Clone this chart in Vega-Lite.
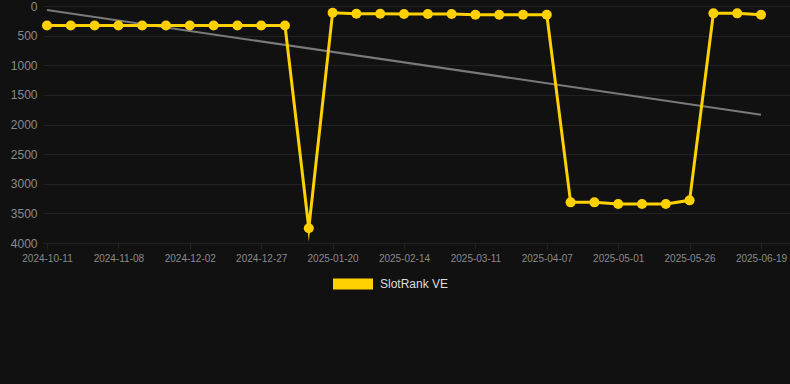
{
  "$schema": "https://vega.github.io/schema/vega-lite/v6.json",
  "autosize": {"type": "none"},
  "width": 747,
  "height": 237,
  "padding": {"left": 43, "top": 6, "right": 0, "bottom": 141},
  "background": "#111111",
  "config": {
    "view": {"stroke": null},
    "font": "Liberation Sans",
    "axis": {"gridColor": "#222222", "gridWidth": 1, "domain": false, "labelColor": "#8a8a8a", "labelFont": "Liberation Sans"}
  },
  "datasets": {
    "rank": [
      {"date": "2024-10-11", "rank": 330},
      {"date": "2024-10-20", "rank": 330},
      {"date": "2024-10-29", "rank": 330},
      {"date": "2024-11-08", "rank": 330},
      {"date": "2024-11-16", "rank": 330},
      {"date": "2024-11-24", "rank": 330},
      {"date": "2024-12-02", "rank": 330},
      {"date": "2024-12-10", "rank": 330},
      {"date": "2024-12-19", "rank": 330},
      {"date": "2024-12-27", "rank": 330},
      {"date": "2025-01-04", "rank": 330},
      {"date": "2025-01-12", "rank": 3750},
      {"date": "2025-01-20", "rank": 113},
      {"date": "2025-01-28", "rank": 130},
      {"date": "2025-02-06", "rank": 130},
      {"date": "2025-02-14", "rank": 135},
      {"date": "2025-02-22", "rank": 135},
      {"date": "2025-03-03", "rank": 135},
      {"date": "2025-03-11", "rank": 147},
      {"date": "2025-03-20", "rank": 147},
      {"date": "2025-03-29", "rank": 147},
      {"date": "2025-04-07", "rank": 147},
      {"date": "2025-04-15", "rank": 3314},
      {"date": "2025-04-23", "rank": 3314},
      {"date": "2025-05-01", "rank": 3342},
      {"date": "2025-05-09", "rank": 3342},
      {"date": "2025-05-17", "rank": 3342},
      {"date": "2025-05-26", "rank": 3280},
      {"date": "2025-06-03", "rank": 124},
      {"date": "2025-06-11", "rank": 124},
      {"date": "2025-06-19", "rank": 147}
    ],
    "trend": [
      {"date": "2024-10-11", "rank": 68},
      {"date": "2025-06-19", "rank": 1834}
    ]
  },
  "encoding": {
    "x": {
      "field": "date",
      "type": "ordinal",
      "title": null,
      "scale": {"type": "point", "padding": 0.693, "align": 0.121},
      "axis": {
        "values": ["2024-10-11", "2024-11-08", "2024-12-02", "2024-12-27", "2025-01-20", "2025-02-14", "2025-03-11", "2025-04-07", "2025-05-01", "2025-05-26", "2025-06-19"],
        "labelAngle": 0,
        "labelFontSize": 10,
        "tickColor": "#222222",
        "tickSize": 6,
        "labelPadding": 4
      }
    },
    "y": {
      "field": "rank",
      "type": "quantitative",
      "title": null,
      "scale": {"domain": [0, 4000], "reverse": true, "nice": false},
      "axis": {"values": [0, 500, 1000, 1500, 2000, 2500, 3000, 3500, 4000], "format": "d", "ticks": false, "labelFontSize": 12, "labelPadding": 6}
    }
  },
  "layer": [
    {
      "data": {"name": "trend"},
      "mark": {"type": "line", "color": "#7a7a7a", "strokeWidth": 2}
    },
    {
      "data": {"name": "rank"},
      "mark": {"type": "line", "strokeWidth": 3, "strokeJoin": "miter", "strokeMiterLimit": 10, "point": {"filled": true, "size": 100, "opacity": 1}},
      "encoding": {
        "color": {
          "datum": "SlotRank VE",
          "type": "nominal",
          "scale": {"range": ["#FFD100"]},
          "legend": {
            "title": null,
            "orient": "none",
            "legendX": 290,
            "legendY": 258,
            "symbolType": "M-1,-0.275L1,-0.275L1,0.275L-1,0.275Z",
            "symbolSize": 1600,
            "symbolFillColor": "#FFD100",
            "symbolStrokeColor": "#FFD100",
            "symbolStrokeWidth": 0,
            "labelColor": "#dddddd",
            "labelFontSize": 12,
            "labelOffset": 7,
            "labelFont": "Liberation Sans",
            "padding": 0
          }
        }
      }
    }
  ]
}
